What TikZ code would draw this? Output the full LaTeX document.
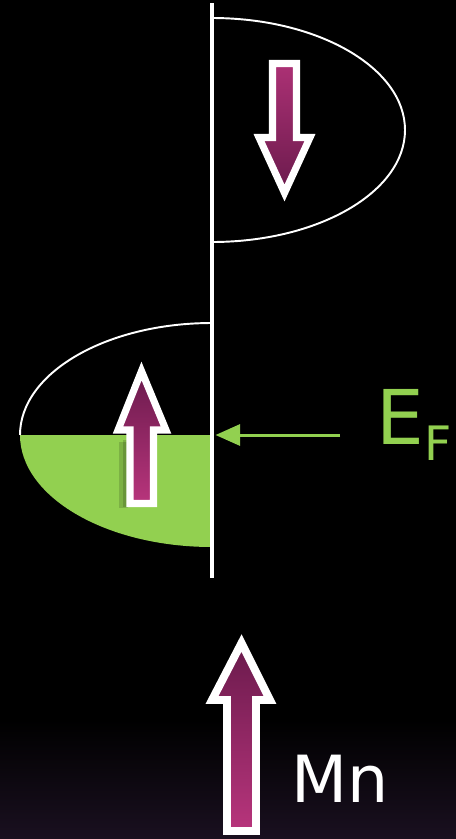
\documentclass[tikz,border=0pt]{standalone}
\usepackage{fontspec}
\setmainfont{DejaVu Sans}
\usetikzlibrary{arrows.meta}
\definecolor{fermigreen}{HTML}{92D050}
\definecolor{spindark}{HTML}{6A1A4C}
\definecolor{spinlight}{HTML}{B8357C}
\definecolor{bgpurple}{HTML}{1A1020}
\tikzset{
  spinarrow/.style={draw=white, line width=4pt, line join=miter},
  spinup/.style={spinarrow, top color=spindark, bottom color=spinlight},
  spindown/.style={spinarrow, top color=spinlight!85!spindark, bottom color=spindark},
  band/.style={white, line width=1.1pt},
}
\begin{document}
\begin{tikzpicture}[x=0.02cm, y=-0.02cm]
    % background
    \fill[black] (0,0) rectangle (456,839);
    \shade[top color=black, bottom color=bgpurple] (0,720) rectangle (456,839);
    \useasboundingbox (0,0) rectangle (456,839);

    % energy axis
    \coordinate (axis top) at (212,3);
    \coordinate (axis bottom) at (212,578);
    \coordinate (fermi) at (212,435);

    % spin-down band
    \draw[band] (212,18) arc[start angle=-90, end angle=90, x radius=193, y radius=112];

    % spin-up band, filled up to E_F
    \fill[fermigreen] (fermi) -- (20,435) arc[start angle=180, end angle=90, x radius=192, y radius=112] -- cycle;
    \draw[band] (212,323) arc[start angle=-90, end angle=-180, x radius=192, y radius=112];

    \draw[white, line width=2.2pt] (axis top) -- (axis bottom);

    % spin arrows
    \filldraw[spindown] (272.5,63.5) -- (296.5,63.5) -- (296.5,137.5) -- (310,137.5) -- (284.5,193) -- (259,137.5) -- (272.5,137.5) -- cycle;
    \fill[black, opacity=0.15] (119,442) rectangle (128,508); % shadow
    \fill[black, opacity=0.15] (123,440) rectangle (128,507);
    \filldraw[spinup] (130,503.5) -- (153.5,503.5) -- (153.5,430) -- (166,430) -- (141.5,371) -- (118,430) -- (130,430) -- cycle;

    % Mn moment
    \filldraw[spinup, line width=4.5pt] (227,831) -- (256,831) -- (256,700) -- (270,700) -- (241.5,643) -- (212,700) -- (227,700) -- cycle;
    \node[white, anchor=base west, inner sep=0pt, font=\fontsize{37}{37}\selectfont] (mn) at (291,802) {Mn};

    % Fermi level
    \node[fermigreen, anchor=base west, inner sep=0pt, font=\fontsize{43}{43}\selectfont] (ef) at (376,444) {E\raisebox{-9.5pt}{\fontsize{27}{27}\selectfont F}};
    \draw[fermigreen, line width=1.7pt, -{Triangle[length=14pt, width=12pt]}, shorten <=0.72cm, shorten >=2pt] (fermi -| ef.west) -- (fermi);
\end{tikzpicture}
\end{document}
